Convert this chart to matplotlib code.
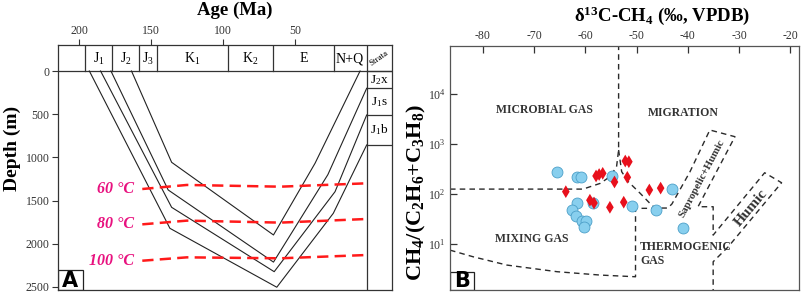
import matplotlib
matplotlib.use('Agg')
import matplotlib.pyplot as plt
from matplotlib.patches import Rectangle
from matplotlib.ticker import NullLocator

plt.rcParams['font.family'] = ['Liberation Serif', 'DejaVu Serif']
plt.rcParams['mathtext.fontset'] = 'custom'
plt.rcParams['mathtext.rm'] = 'Liberation Serif'

# ---- panel A data: burial history ----
period_bounds = [196, 177, 158, 145.5, 96.5, 65, 23, 0]
period_names = ['J$\\mathregular{_1}$', 'J$\\mathregular{_2}$', 'J$\\mathregular{_3}$',
                'K$\\mathregular{_1}$', 'K$\\mathregular{_2}$', 'E', 'N+Q']
strata_depths = [0, 200, 509, 856]
strata_names = ['J$\\mathregular{_2}$x', 'J$\\mathregular{_1}$s', 'J$\\mathregular{_1}$b']

burial_ages = [
    [163.5, 135.6, 64.8, 35.9, 4.6],
    [177.8, 138.0, 64.8, 27.0, 0.0],
    [185.0, 135.6, 64.3, 22.0, 0.0],
    [192.8, 136.8, 62.5, 23.2, 0.0],
]
burial_depths = [
    [0, 1057, 1898, 1068, 0],
    [0, 1377, 2212, 1200, 200],
    [0, 1578, 2323, 1397, 509],
    [0, 1821, 2503, 1647, 856],
]
iso_names = ['60 \u00b0C', '80 \u00b0C', '100 \u00b0C']
iso_ages = [156, 125, 60, 0]
iso_depths = [
    [1366, 1319, 1339, 1300],
    [1775, 1732, 1755, 1713],
    [2196, 2157, 2168, 2130],
]

# ---- panel B data: gas genesis ----
circ_d13c = [-65.5, -61.7, -60.9, -54.8, -43.0, -58.4, -61.7, -62.6, -61.9,
             -60.7, -59.9, -60.2, -50.8, -46.2, -40.9]
circ_ratio = [281, 223, 217, 234, 129, 65.4, 64.9, 48, 36.4,
              28.9, 29.6, 22.4, 58.6, 48, 20.5]
dia_d13c = [-63.8, -57.9, -57.3, -56.6, -54.3, -52.2, -51.5, -51.8, -59.1,
            -58.3, -55.2, -52.5, -47.5, -45.3]
dia_ratio = [112, 231, 247, 261, 175, 460, 446, 217, 75.5,
             66.4, 54.4, 68.9, 121, 132]

# field boundaries (d13C, ratio)
microbial_x = [-86.4, -60.45, -57.1, -55.2, -53.9, -53.5, -53.5]
microbial_y = [126, 126, 164, 223, 354, 765, 94000]
migration_x = [-53.5, -52.9, -51.6, -49.3, -47.4, -46.4, -43.9, -43.1, -39.6, -35.7,
               -30.8, -38.0, -35.05, -35.05, -25.0, -21.7, -32.1, -35.05, -35.05]
migration_y = [765, 281, 177, 104, 65.4, 52.6, 52.6, 63.4, 277, 1926,
               1413, 55.9, 55.9, 15.1, 268, 169, 8.83, 4.42, 1.2]
mixing_x = [-86.4, -81.9, -75.3, -65.5, -57.1, -50.2, -50.2, -46.4]
mixing_y = [7.55, 5.56, 3.79, 2.79, 2.39, 2.21, 51.9, 51.9]

W, H = 809, 293


def box(l, t, r, b):
    return [l / W, 1 - b / H, (r - l) / W, (b - t) / H]


fig = plt.figure(figsize=(W / 100, H / 100), dpi=100)

# ================= A =================
ax = fig.add_axes(box(58, 45, 392, 290))
ax.set_xlim(214.6, -17.6)
ax.set_ylim(2535, -301)
ax.xaxis.tick_top()
ax.set_xticks([200, 150, 100, 50])
ax.set_yticks([0, 500, 1000, 1500, 2000, 2500])
ax.tick_params(direction='out', length=4, width=0.8, labelsize=8.5, pad=2, colors='#333')
for s in ax.spines.values():
    s.set_linewidth(0.9)
    s.set_color('#333')

ax.plot([214.6, -17.6], [0, 0], color='#333', lw=0.9)
for b in period_bounds:
    ax.plot([b, b], [-301, 0], color='#333', lw=0.9)
ax.plot([0, 0], [0, 2535], color='#333', lw=0.9)
edges = period_bounds
for i, name in enumerate(period_names):
    ax.text((edges[i] + edges[i + 1]) / 2, -140, name, ha='center', va='center', fontsize=10)
for d in strata_depths:
    ax.plot([0, -17.6], [d, d], color='#333', lw=0.9)
for i, name in enumerate(strata_names):
    ax.text(-8.8, (strata_depths[i] + strata_depths[i + 1]) / 2, name,
            ha='center', va='center', fontsize=9.5)
ax.text(-8.8, -150, 'Strata', rotation=35, ha='center', va='center', fontsize=6.5)

for a, d in zip(burial_ages, burial_depths):
    ax.plot(a, d, color='#222', lw=0.8)

for name, d in zip(iso_names, iso_depths):
    ax.plot(iso_ages, d, color='#FF1A1A', lw=1.8, dashes=(4.5, 2.5))
    ax.text(iso_ages[0] + 6, d[0], name, ha='right', va='center', color='#E8117F',
            fontsize=11.5, fontweight='bold', fontstyle='italic')

ax.add_patch(Rectangle((0, 0), 0.074, 0.082, transform=ax.transAxes, fill=False,
                       ec='#222', lw=0.9))
ax.text(0.037, 0.038, 'A', transform=ax.transAxes, ha='center', va='center',
        fontsize=15, fontweight='bold', family='DejaVu Sans')

fig.text(235 / W, 1 - 10 / H, 'Age (Ma)', ha='center', va='center', fontsize=13.5,
         fontweight='bold')
fig.text(12 / W, 1 - 148 / H, 'Depth (m)', ha='center', va='center', fontsize=14,
         fontweight='bold', rotation=90)

# ================= B =================
bx = fig.add_axes(box(450, 45.7, 799, 290))
bx.set_yscale('log')
bx.set_xlim(-86.4, -18.3)
bx.set_ylim(1.2, 94000)
bx.xaxis.tick_top()
bx.set_xticks([-80, -70, -60, -50, -40, -30, -20])
bx.set_xticklabels(['-80', '-70', '-60', '-50', '-40', '-30', '-20'])
bx.set_yticks([10, 100, 1000, 10000])
bx.set_yticklabels(['$\\mathregular{10^{1}}$', '$\\mathregular{10^{2}}$',
                    '$\\mathregular{10^{3}}$', '$\\mathregular{10^{4}}$'])
bx.yaxis.set_minor_locator(NullLocator())
bx.tick_params(direction='in', length=5, width=0.9, labelsize=8.5, pad=3, colors='#333')
for s in bx.spines.values():
    s.set_linewidth(0.9)
    s.set_color('#555')

dash_kw = dict(color='#2a2a2a', lw=1.0, dashes=(4, 3))
bx.plot(microbial_x, microbial_y, **dash_kw)
bx.plot(migration_x, migration_y, **dash_kw)
bx.plot(mixing_x, mixing_y, **dash_kw)

bx.scatter(circ_d13c, circ_ratio, s=62, marker='o', facecolor='#88CFEE',
           edgecolor='#4C9FC8', lw=0.6, zorder=3)
bx.scatter(dia_d13c, dia_ratio, s=42, marker='d', facecolor='#E8101C',
           edgecolor='none', zorder=4)

lab_kw = dict(fontsize=8.5, fontweight='bold', color='#333')
bx.text(-68.05, 4840, 'MICROBIAL GAS', ha='center', va='center', **lab_kw)
bx.text(-40.96, 4220, 'MIGRATION', ha='center', va='center', **lab_kw)
bx.text(-70.45, 12.4, 'MIXING GAS', ha='center', va='center', **lab_kw)
bx.text(-49.33, 6.3, 'THERMOGENIC\nGAS', ha='left', va='center', linespacing=1.2, **lab_kw)
bx.text(-37.3, 207, 'Sapropelic+Humic', ha='center', va='center', rotation=62,
        fontsize=7.8, fontweight='bold', color='#333')
bx.text(-27.7, 54, 'Humic', ha='center', va='center', rotation=50,
        fontsize=11, fontweight='bold', color='#333')

bx.add_patch(Rectangle((0, 0), 0.069, 0.075, transform=bx.transAxes, fill=False,
                       ec='#222', lw=0.9))
bx.text(0.0345, 0.036, 'B', transform=bx.transAxes, ha='center', va='center',
        fontsize=15, fontweight='bold', family='DejaVu Sans')

fig.text(661.7 / W, 1 - 16 / H, '\u03b4$\\mathregular{^{13}}$C-CH$\\mathregular{_4}$ (\u2030, VPDB)',
         ha='center', va='center', fontsize=13.5, fontweight='bold')
fig.text(416 / W, 1 - 192 / H,
         'CH$\\mathregular{_4}$/(C$\\mathregular{_2}$H$\\mathregular{_6}$+C$\\mathregular{_3}$H$\\mathregular{_8}$)',
         ha='center', va='center', fontsize=16, fontweight='bold', rotation=90)

fig.savefig('out.png', dpi=100)
